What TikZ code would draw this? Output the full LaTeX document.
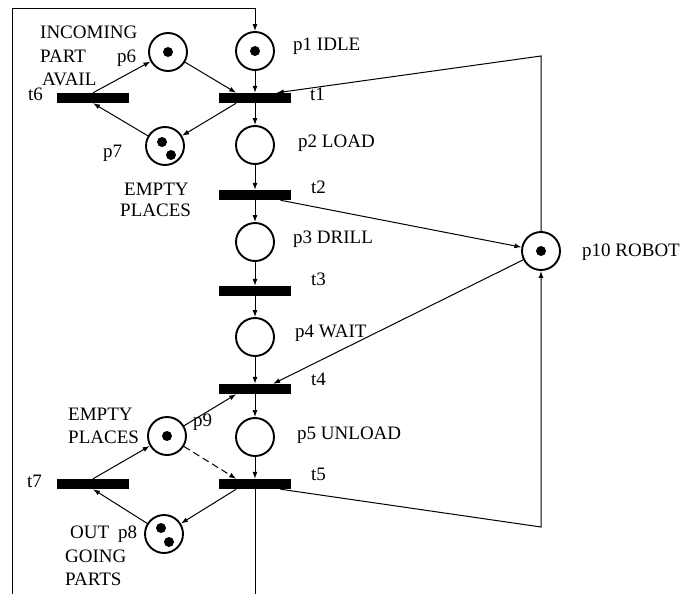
\documentclass[tikz,border=0pt]{standalone}
\usepackage{fontspec}
\setmainfont{Liberation Serif}
\usetikzlibrary{arrows.meta,calc}
\begin{document}
\begin{tikzpicture}[x=1pt,y=-1pt,
  plc/.style={circle,draw,line width=1.9pt,minimum size=38pt,inner sep=0pt},
  trn/.style={rectangle,fill=black,minimum width=72pt,minimum height=10pt,inner sep=0pt},
  tok/.style={fill=black},
  lbl/.style={font=\fontsize{19}{23}\selectfont,inner sep=0pt,anchor=base west},
  flow/.style={line width=1pt,-{Latex[length=7pt,width=5pt]}},
  wire/.style={line width=1pt},
  dsh/.style={dash pattern=on 7pt off 4pt}]
\useasboundingbox (0,0) rectangle (684,594);
% places
\node[plc] (p1) at (255,51) {};
\node[plc] (p2) at (255,145) {};
\node[plc] (p3) at (255,242) {};
\node[plc] (p4) at (255,337) {};
\node[plc] (p5) at (255,437) {};
\node[plc] (p6) at (168,52) {};
\node[plc] (p7) at (165,146) {};
\node[plc] (p8) at (164,534) {};
\node[plc] (p9) at (167,436) {};
\node[plc] (p10) at (541,251) {};
% transitions
\node[trn] (t1) at (255,98) {};
\node[trn] (t2) at (255,195) {};
\node[trn] (t3) at (255,291) {};
\node[trn] (t4) at (255,389) {};
\node[trn] (t5) at (255,484) {};
\node[trn] (t6) at (93,98) {};
\node[trn] (t7) at (93,484) {};
% tokens
\fill[tok] (p1.center) circle[radius=5pt];
\fill[tok] (p6.center) circle[radius=5pt];
\fill[tok] (p9.center) circle[radius=5pt];
\fill[tok] (p10.center) circle[radius=5pt];
\fill[tok] ($(p7.center)+(-3,-4)$) circle[radius=5pt];
\fill[tok] ($(p7.center)+(6,9)$) circle[radius=5pt];
\fill[tok] ($(p8.center)+(-3,-6)$) circle[radius=5pt];
\fill[tok] ($(p8.center)+(5,8)$) circle[radius=5pt];
% free ends
\coordinate (bl) at (12,594);
\coordinate (tl) at (12,9);
\coordinate (tr) at (255,9);
\coordinate (bm) at (255,594);
\coordinate (rt) at (541,56);
\coordinate (rb) at (541,527);
% main chain
\draw[flow] (bl) -- (tl) -- (tr) -- (p1);
\draw[flow] (p1) -- (t1);
\draw[flow] (t1) -- (p2);
\draw[flow] (p2) -- (t2);
\draw[flow] (t2) -- (p3);
\draw[flow] (p3) -- (t3);
\draw[flow] (t3) -- (p4);
\draw[flow] (p4) -- (t4);
\draw[flow] (t4) -- (p5);
\draw[flow] (p5) -- (t5);
\draw[wire] (t5) -- (bm);
% robot
\draw[flow] (p10) -- (rt) -- ($(t1.north west)!0.8!(t1.north east)$);
\draw[flow] ($(t2.south west)!0.85!(t2.south east)$) -- (p10);
\draw[flow] (p10) -- ($(t4.north west)!0.75!(t4.north east)$);
\draw[flow] ($(t5.south west)!0.85!(t5.south east)$) -- (rb) -- (p10);
% upper left loop
\draw[flow] (t6.north) -- (p6);
\draw[flow] (p6) -- ($(t1.north west)!0.24!(t1.north east)$);
\draw[flow] ($(t1.south west)!0.24!(t1.south east)$) -- (p7);
\draw[flow] (p7) -- (t6.south);
% lower left loop
\draw[flow] (t7.north) -- (p9);
\draw[flow] (p9) -- ($(t4.south west)!0.24!(t4.south east)$);
\draw[flow,dsh] (p9) -- ($(t5.north west)!0.24!(t5.north east)$);
\draw[flow] ($(t5.south west)!0.24!(t5.south east)$) -- (p8);
\draw[flow] (p8) -- (t7.south);
% labels
\node[lbl] (l1) at (293,50) {p1 IDLE};
\node[lbl] (l2) at (298,147) {p2 LOAD};
\node[lbl] (l3) at (293,243) {p3 DRILL};
\node[lbl] (l4) at (295,337) {p4 WAIT};
\node[lbl] (l5) at (297,439) {p5 UNLOAD};
\node[lbl] (l10) at (582,256) {p10 ROBOT};
\node[lbl] (lt1) at (310,100) {t1};
\node[lbl] (lt2) at (311,193) {t2};
\node[lbl] (lt3) at (311,285) {t3};
\node[lbl] (lt4) at (311,385) {t4};
\node[lbl] (lt5) at (311,480) {t5};
\node[lbl] (lt6) at (28,100) {t6};
\node[lbl] (lt7) at (27,487) {t7};
\node[lbl] (l6) at (117,63) {p6};
\node[lbl] (l7) at (103,157) {p7};
\node[lbl] (l9) at (193,426) {p9};
\node[lbl] (l8) at (118,538) {p8};
\node[lbl] (ia) at (40,38) {INCOMING};
\node[lbl] (ib) at (40,62) {PART};
\node[lbl] (ic) at (42,85) {AVAIL};
\node[lbl] (ea) at (124,195) {EMPTY};
\node[lbl] (eb) at (120,216) {PLACES};
\node[lbl] (fa) at (68,420) {EMPTY};
\node[lbl] (fb) at (68,443) {PLACES};
\node[lbl] (oa) at (70,538) {OUT};
\node[lbl] (ob) at (65,562) {GOING};
\node[lbl] (oc) at (65,585) {PARTS};
\end{tikzpicture}
\end{document}
